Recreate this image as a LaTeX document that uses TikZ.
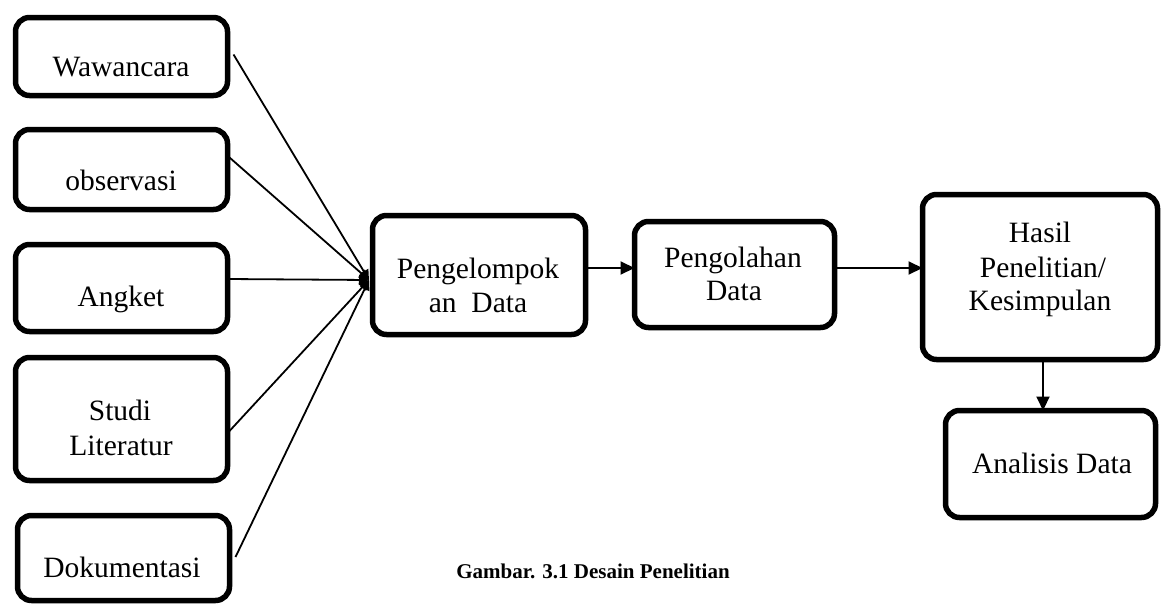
\documentclass[tikz,border=0pt]{standalone}
\usepackage{fontspec}
\setmainfont{Liberation Serif}
\usetikzlibrary{arrows.meta,calc}
\begin{document}
\begin{tikzpicture}[x=1pt,y=-1pt,
  box/.style={draw,rectangle,rounded corners=14pt,line width=5.5pt,inner sep=0pt,outer sep=0pt},
  txt/.style={anchor=base,inner sep=0pt,font=\fontsize{29.5}{34}\selectfont},
  arr/.style={line width=2pt,-{Triangle[length=14pt,width=13pt]}},
  farr/.style={line width=1.8pt,-{Triangle[length=10pt,width=10pt]}},
  captxt/.style={anchor=base,inner sep=0pt,font=\fontsize{21}{25}\selectfont\bfseries}]
\useasboundingbox (0,0) rectangle (1164,605);
% boxes
\node[box,minimum width=212pt,minimum height=78pt] (w) at (121.5,56.5) {};
\node[box,minimum width=212pt,minimum height=80pt] (o) at (121.5,169.5) {};
\node[box,minimum width=212pt,minimum height=87pt] (a) at (121.5,288) {};
\node[box,minimum width=212pt,minimum height=123pt] (s) at (121.5,419) {};
\node[box,minimum width=212pt,minimum height=85pt] (d) at (123.5,558) {};
\node[box,minimum width=213pt,minimum height=119pt] (p) at (479,275) {};
\node[box,minimum width=200pt,minimum height=106pt] (g) at (734.5,274.5) {};
\node[box,minimum width=235pt,minimum height=165pt] (h) at (1040,277) {};
\node[box,minimum width=210pt,minimum height=107pt] (n) at (1050.5,464) {};
% texts
\node[txt] (wt) at (121,76) {Wawancara};
\node[txt] (ot) at (121,190) {observasi};
\node[txt] (at) at (121,306) {Angket};
\node[txt] (st1) at (120,420) {Studi};
\node[txt] (st2) at (121,455) {Literatur};
\node[txt] (dt) at (122,577) {Dokumentasi};
\node[txt] (pt1) at (478,278) {Pengelompok};
\node[txt] (pt2) at (478,312) {an\ \ Data};
\node[txt] (gt1) at (733,267) {Pengolahan};
\node[txt] (gt2) at (734,300) {Data};
\node[txt] (ht1) at (1040,242) {Hasil};
\node[txt] (ht2) at (1043,277) {Penelitian/};
\node[txt] (ht3) at (1040,310) {Kesimpulan};
\node[txt] (nt) at (1052,473) {Analisis Data};
\node[captxt] (caption) at (593,578) {Gambar. 3.1 Desain Penelitian};
% connectors
\coordinate (hub) at (369,280);
\draw[farr] ($(w.east)+(6,-2)$) -- (hub);
\draw[farr] ($(o.east)+(2,-12)$) -- (hub);
\draw[farr] ($(a.east)+(0,-9)$) -- (hub);
\draw[farr] ($(s.east)+(2,12)$) -- (hub);
\draw[farr] ($(d.east)+(6,-1)$) -- (hub);
\draw[arr] ([yshift=7pt]p.east) -- ([yshift=7pt]p.east -| g.west);
\draw[arr] ([yshift=6.5pt]g.east) -- ([yshift=6.5pt]g.east -| h.west);
\draw[arr] ([xshift=3pt]h.south) -- ([xshift=3pt]h.south |- n.north);
\end{tikzpicture}
\end{document}
